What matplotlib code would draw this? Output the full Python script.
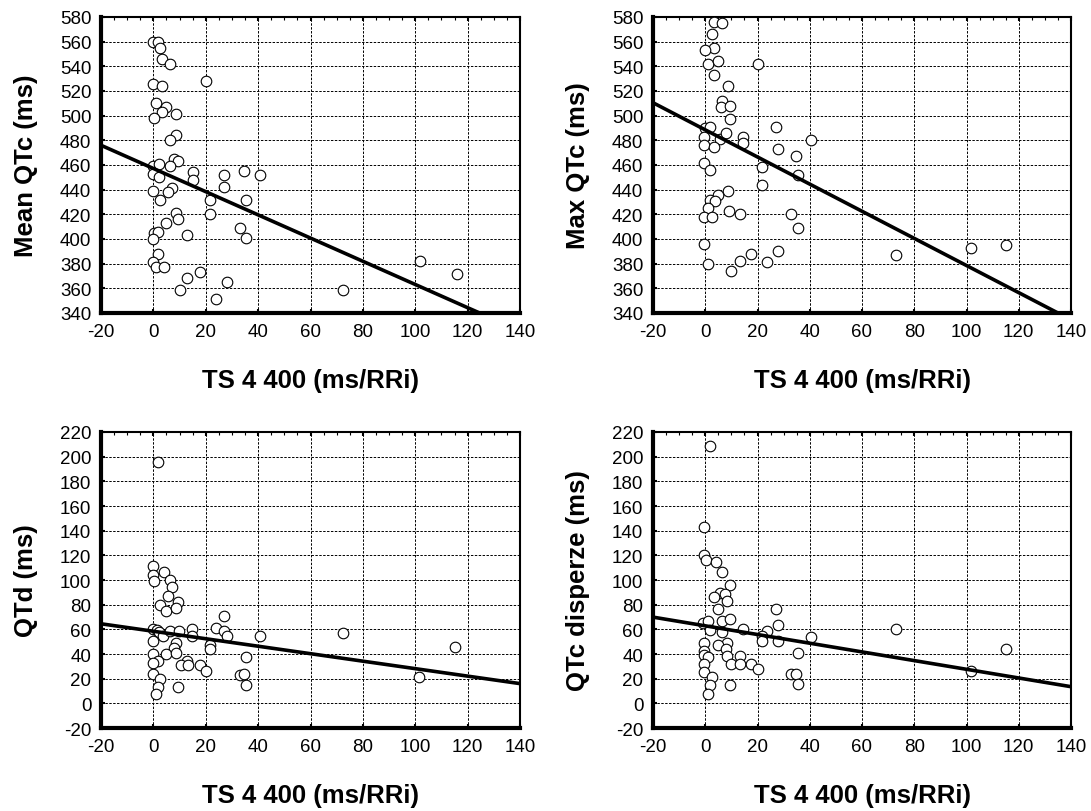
import matplotlib
matplotlib.use("Agg")
import matplotlib.pyplot as plt
import numpy as np
from matplotlib.ticker import MultipleLocator

plt.rcParams['font.family'] = ['Liberation Sans', 'DejaVu Sans']
plt.rcParams['axes.unicode_minus'] = False

# TS 4 400 (ms/RRi) on x for every panel
x_label = 'TS 4 400 (ms/RRi)'

# Mean QTc
mean_x = [0, 1.7, 2.5, 3.4, 6.4, 20, 0, 3.4, 1, 4.8,
          3.4, 8.5, 0.4, 8.7, 6.4, 7.9, 9.3, 0, 2, 6.4,
          0, 2, 15, 15, 27, 34.6, 40.8, 0, 7.3, 5.7,
          2.5, 27, 21.7, 35.4, 8.7, 9.3, 4.8, 21.7, 0.4, 1.7,
          0, 13, 33, 35.4, 1.7, 0, 1, 4, 17.8, 13,
          28, 10, 23.8, 72.3, 102, 115.8]
mean_y = [560, 560, 555, 546, 542, 528, 526, 524, 510, 507,
          503, 501, 498, 484, 480, 465, 463, 459, 461, 459,
          453, 450, 454, 448, 452, 455, 452, 439, 441, 438,
          432, 442, 432, 432, 421, 416, 413, 420, 405, 406,
          400, 403, 409, 401, 388, 381, 377, 377, 373, 368,
          365, 359, 351, 359, 382, 372]
mean_fit = [476, 325.5]   # fitted line at x = -20 and x = 140

# Max QTc
max_x = [3.2, 6.4, 2.5, 3.4, 0, 0.9, 4.7, 20.3, 3.2, 8.6,
         6.4, 6, 9.6, 9.6, 0, 1.9, 27, -0.6, 5.7, 7.9,
         14.6, 14.6, 40.6, -0.6, 3.2, 27.7, 34.6, -0.6, 1.9, 21.7,
         35.5, 21.7, 8.6, 4.7, 1.9, 3.8, 0.9, -0.6, 2.5, 9.2,
         13.2, 33, 35.5, -0.6, 17.5, 27.7, 0.9, 13.2, 23.8, 10,
         72.9, 101.6, 115.2]
max_y = [576, 575, 566, 555, 553, 542, 544, 542, 533, 524,
         512, 507, 508, 497, 490, 491, 491, 483, 481, 486,
         483, 478, 480, 476, 475, 473, 467, 462, 456, 458,
         452, 444, 439, 436, 432, 431, 425, 418, 418, 423,
         420, 420, 409, 396, 388, 390, 380, 382, 381, 374,
         387, 393, 395]
max_fit = [510.5, 334.5]

# QTd
qtd_x = [1.7, 0, 0, 0.4, 4.1, 6.4, 7.3, 5.7, 9.3, 2.5,
         4.8, 8.7, 27, 0, 1.3, 2.2, 3.8, 6.4, 9.6, 14.9,
         14.9, 23.8, 26.8, 28, 40.8, 0, 8.7, 7.9, 21.7, 21.7,
         0, 4.8, 8.7, 35.4, 1.7, 0, 13, 10.4, 13.4, 17.8,
         20, 0, 2.5, 33, 34.6, 1.7, 9.3, 35.4, 1, 72.3,
         101.5, 115.3]
qtd_y = [195.7, 111.6, 104, 99, 106.8, 100.3, 94.1, 87.4, 82.5, 80,
         74.7, 77.4, 71.2, 60.4, 59.6, 57.7, 55, 58.5, 58.5, 60.4,
         55, 61.2, 58.5, 55, 55, 50.5, 49.1, 45.1, 47.5, 43.7,
         40.2, 40.2, 40.8, 37.5, 34.3, 32.9, 34.3, 30.8, 30.8, 30.8,
         26.2, 24, 20, 22.7, 24, 13.3, 13.3, 14.6, 7.9, 56.9,
         21.3, 45.6]
qtd_fit = [64.5, 16]

# QTc disperze
disp_x = [1.8, -0.6, -0.6, 0.3, 4.1, 6.4, 9.6, 5.7, 7.6, 3.4,
          8.5, 4.7, 27, -1, 0.9, 6.4, 9.4, 1.9, 6.4, 14.6,
          23.8, 27.9, 40.6, 21.7, 21.7, 27.9, -0.6, 8.5, 4.7, 7.9,
          -0.6, -0.6, 0.9, 8.5, 13.2, 35.5, 9.8, 13.2, 17.5, -0.6,
          20.3, -0.6, 2.5, 33, 34.6, 1.8, 9.6, 35.5, 0.9, 72.9,
          101.6, 115.2]
disp_y = [208.7, 142.6, 120.3, 116.5, 114.9, 106.8, 96, 89.5, 88.7, 86,
          82.8, 76.1, 76.6, 65.3, 66.4, 66.6, 68, 59.2, 57.7, 60.4,
          58.5, 63.7, 53.7, 54.5, 50.2, 50.2, 49.1, 49.1, 47, 44.3,
          42.4, 38.9, 37.5, 38.3, 38.1, 40.8, 32.1, 32.1, 32.1, 32.1,
          27.6, 25.4, 21.3, 24, 24, 14.6, 14.6, 16, 7.9, 59.9,
          26.2, 44.3]
disp_fit = [69.9, 13.5]

fit_x = [-20, 140]

panels = [
    (mean_x, mean_y, mean_fit, 'Mean QTc (ms)', (340, 580)),
    (max_x, max_y, max_fit, 'Max QTc (ms)', (340, 580)),
    (qtd_x, qtd_y, qtd_fit, 'QTd (ms)', (-20, 220)),
    (disp_x, disp_y, disp_fit, 'QTc disperze (ms)', (-20, 220)),
]

W, H = 1091, 812
fig = plt.figure(figsize=(W / 100, H / 100), dpi=100)

# axes boxes in pixels: left, top, right, bottom
boxes = [(101, 18, 520, 314), (653, 18, 1071, 314),
         (101, 433, 520, 729), (653, 433, 1071, 729)]

for (xs, ys, fit, ylab, ylim), (l, t, r, b) in zip(panels, boxes):
    ax = fig.add_axes([l / W, 1 - b / H, (r - l) / W, (b - t) / H])
    ax.set_xlim(-20, 140)
    ax.set_ylim(*ylim)
    ax.xaxis.set_major_locator(MultipleLocator(20))
    ax.yaxis.set_major_locator(MultipleLocator(20))
    ax.xaxis.set_minor_locator(MultipleLocator(5))
    ax.grid(True, which='major', color='black', linestyle=(0, (2.5, 1.5)), linewidth=0.7)
    ax.set_axisbelow(True)

    ax.scatter(xs, ys, s=58, facecolor='white', edgecolor='black', linewidth=0.8, zorder=3)
    ax.plot(fit_x, fit, color='black', linewidth=2.6, zorder=4)

    for side in ['left', 'bottom']:
        ax.spines[side].set_linewidth(3)
    for side in ['top', 'right']:
        ax.spines[side].set_linewidth(1.5)

    ax.tick_params(which='major', direction='in', length=3, width=1.5, top=True,
                   labelsize=13.5, pad=7)
    ax.tick_params(which='minor', direction='in', length=2, width=0.8, top=True, bottom=False)

    ax.set_xlabel(x_label, fontsize=18.5, fontweight='bold', va='center')
    ax.xaxis.set_label_coords(0.5, -67 / (b - t))
    ax.set_ylabel(ylab, fontsize=18.5, fontweight='bold', va='center')
    ax.yaxis.set_label_coords(-75 / (r - l), 0.5)

fig.savefig('out.png', dpi=100)
